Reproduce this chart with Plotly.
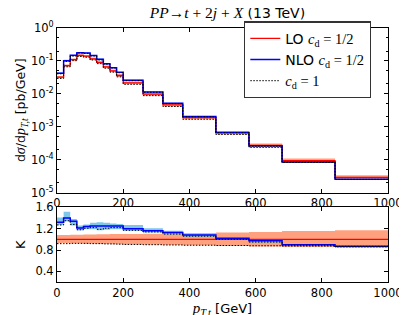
import plotly.graph_objects as go

# ---------------- data ----------------
edges = [0, 20, 40, 60, 80, 100, 120, 140, 160, 180, 200, 260, 320, 380, 480, 580, 680, 840, 1000]

# LO (c_d = 1/2) differential cross section [pb/GeV]
lo = [0.032, 0.072, 0.11, 0.147, 0.14, 0.116, 0.09, 0.066, 0.05, 0.036,
      0.0215, 0.0098, 0.0046, 0.0019, 6.6e-4, 2.7e-4, 9.4e-5, 2.9e-5]

# K factor NLO/LO (c_d = 1/2)
k_nlo = [1.32, 1.40, 1.34, 1.215, 1.24, 1.25, 1.25, 1.25, 1.25, 1.25,
         1.20, 1.16, 1.13, 1.08, 1.02, 0.975, 0.90, 0.87]
# NLO scale band (ratio to LO)
k_nlo_up = [1.41, 1.52, 1.38, 1.26, 1.28, 1.31, 1.32, 1.31, 1.30, 1.29,
            1.27, 1.21, 1.16, 1.11, 1.04, 0.99, 0.91, 0.88]
k_nlo_dn = [1.27, 1.34, 1.26, 1.17, 1.19, 1.19, 1.17, 1.18, 1.19, 1.19,
            1.16, 1.13, 1.09, 1.05, 0.99, 0.94, 0.885, 0.855]
# LO scale band (ratio to LO)
k_lo_up = [1.08, 1.08, 1.085, 1.085, 1.09, 1.09, 1.095, 1.095, 1.10, 1.10,
           1.10, 1.105, 1.11, 1.115, 1.13, 1.14, 1.155, 1.17]
k_lo_dn = [0.93, 0.93, 0.925, 0.925, 0.92, 0.92, 0.915, 0.915, 0.91, 0.91,
           0.905, 0.90, 0.895, 0.89, 0.875, 0.865, 0.855, 0.845]
# c_d = 1 curves (ratio to LO c_d = 1/2)
k_cd1_nlo = [1.27, 1.35, 1.28, 1.18, 1.21, 1.22, 1.19, 1.21, 1.22, 1.22,
             1.17, 1.14, 1.10, 1.06, 1.00, 0.95, 0.89, 0.86]
k_cd1_lo = [0.92, 0.92, 0.925, 0.925, 0.925, 0.92, 0.92, 0.915, 0.915, 0.91,
            0.905, 0.90, 0.895, 0.89, 0.885, 0.88, 0.875, 0.87]

xticks = [0, 200, 400, 600, 800, 1000]
ytick_exp = [-5, -4, -3, -2, -1, 0]
ktick = [0.4, 0.8, 1.2, 1.6]

# ---------------- helpers ----------------
def step(v):
    return list(v) + [v[-1]]

def scaled(r):
    return [a * b for a, b in zip(lo, r)]

RED = "#ff0000"
BLUE = "#0000ff"
SALMON = "#ffa07f"
SKY = "#7ec7ea"
SERIF = "Liberation Serif"
SANS = "DejaVu Sans"
DOT = "1.5px,1.5px"

fig = go.Figure()

def band(up, dn, color, xa, ya):
    fig.add_trace(go.Scatter(x=edges, y=step(up), mode="lines", line=dict(width=0, shape="hv"),
                             showlegend=False, hoverinfo="skip", xaxis=xa, yaxis=ya))
    fig.add_trace(go.Scatter(x=edges, y=step(dn), mode="lines", line=dict(width=0, shape="hv"),
                             fill="tonexty", fillcolor=color, showlegend=False, hoverinfo="skip",
                             xaxis=xa, yaxis=ya))

def line(vals, color, dash, width, xa, ya, name=None, show=False):
    fig.add_trace(go.Scatter(x=edges, y=step(vals), mode="lines",
                             line=dict(color=color, dash=dash, width=width, shape="hv"),
                             name=name, showlegend=show, xaxis=xa, yaxis=ya))

math_cd = "<span style='font-family:%s;font-size:14.5px'><i>c</i><sub>d</sub> = 1/2</span>" % SERIF
math_cd1 = "<span style='font-family:%s;font-size:14.5px'><i>c</i><sub>d</sub> = 1</span>" % SERIF

# top panel
band(scaled(k_lo_up), scaled(k_lo_dn), SALMON, "x", "y")
band(scaled(k_nlo_up), scaled(k_nlo_dn), SKY, "x", "y")
line(lo, RED, "solid", 1.3, "x", "y", "LO " + math_cd, True)
line(scaled(k_nlo), BLUE, "solid", 1.5, "x", "y", "NLO " + math_cd, True)
line(scaled(k_cd1_lo), "black", DOT, 1.0, "x", "y", math_cd1, True)
line(scaled(k_cd1_nlo), "black", DOT, 1.0, "x", "y")

# bottom panel
band(k_lo_up, k_lo_dn, SALMON, "x2", "y2")
band(k_nlo_up, k_nlo_dn, SKY, "x2", "y2")
line([1.0] * len(lo), RED, "solid", 1.3, "x2", "y2")
line(k_nlo, BLUE, "solid", 1.5, "x2", "y2")
line(k_cd1_lo, "black", DOT, 1.0, "x2", "y2")
line(k_cd1_nlo, "black", DOT, 1.0, "x2", "y2")

axcommon = dict(showline=True, linecolor="black", linewidth=1, mirror="ticks",
                ticks="inside", ticklen=4, tickcolor="black", showgrid=False, zeroline=False,
                tickfont=dict(family=SANS, size=11.5, color="black"))

top_dom = [0.352, 1.0]
bot_dom = [0.0, 0.2937]

fig.update_layout(
    width=407, height=315,
    margin=dict(l=47, r=15, t=14, b=33),
    paper_bgcolor="white", plot_bgcolor="white",
    font=dict(family=SANS, size=11, color="black"),
    xaxis=dict(domain=[0, 1], anchor="y", range=[0, 1000], tickvals=xticks, **axcommon),
    yaxis=dict(domain=top_dom, anchor="x", type="log", range=[-5, 0],
               tickvals=[10 ** e for e in ytick_exp],
               ticktext=["10<sup>%d</sup>" % e for e in ytick_exp],
               minor=dict(ticks="inside", ticklen=2, tickcolor="black", showgrid=False),
               title=dict(text="d<span style='font-family:%s;font-size:14px'><i>σ</i></span>/d<span style='font-family:%s;font-size:14px'><i>p</i><sub><i>T,t</i></sub></span> [pb/GeV]" % (SERIF, SERIF),
                          font=dict(size=12.5), standoff=2),
               **axcommon),
    xaxis2=dict(domain=[0, 1], anchor="y2", range=[0, 1000], tickvals=xticks,
                title=dict(text="<span style='font-family:%s;font-size:15px'><i>p</i><sub><i>T,t</i></sub></span> [GeV]" % SERIF,
                           font=dict(size=13), standoff=2),
                **axcommon),
    yaxis2=dict(domain=bot_dom, anchor="x2", range=[0.2, 1.6], tickvals=ktick,
                ticktext=["%.1f" % t for t in ktick],
                title=dict(text="K", font=dict(size=13), standoff=6),
                **axcommon),
    title=dict(text="<span style='font-family:%s;font-size:15.5px'><i>PP</i>→<i>t</i> + 2<i>j</i> + <i>X</i></span> (13 TeV)" % SERIF,
               x=(47 + 392) / 2 / 407, xanchor="center", y=1 - 5.5 / 315, yanchor="middle",
               font=dict(size=14, family=SANS)),
    legend=dict(x=0.565, y=1.026, xanchor="left", yanchor="top", traceorder="normal",
                bgcolor="white", bordercolor="#333333", borderwidth=1.3,
                font=dict(family=SANS, size=14), tracegroupgap=0),
    showlegend=True,
)

fig.write_html("out.html")
